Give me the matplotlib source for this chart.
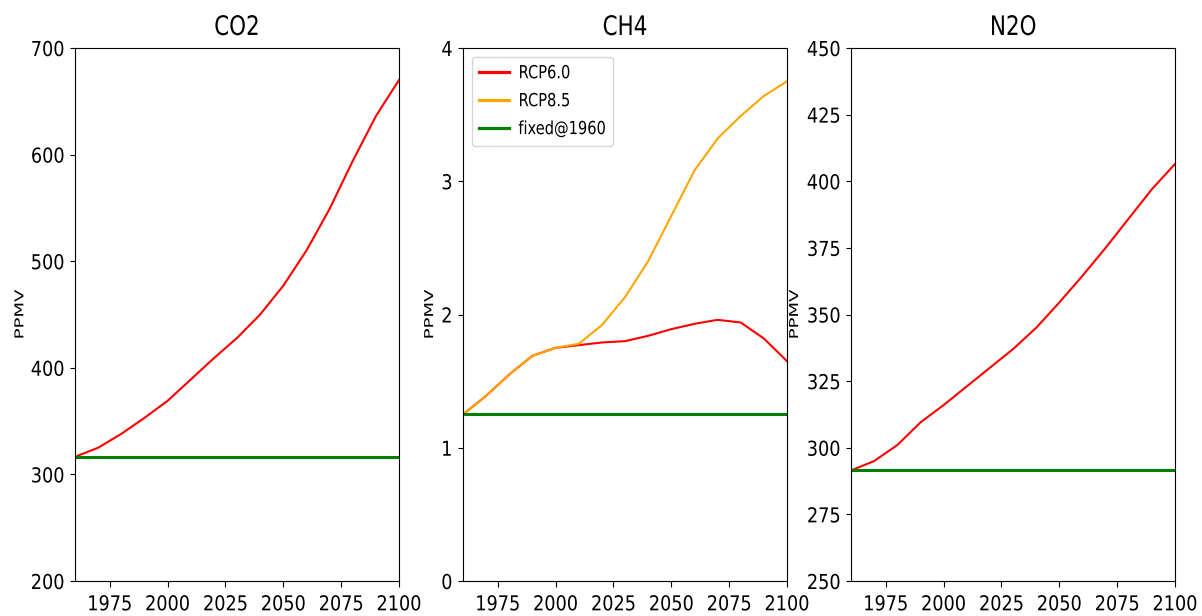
import matplotlib
matplotlib.use("Agg")
import matplotlib.pyplot as plt
from matplotlib.patheffects import AbstractPathEffect
from matplotlib.transforms import Affine2D, Bbox

plt.rcParams['font.family'] = ["DejaVu Sans"]

years = [1960, 1970, 1980, 1990, 2000, 2010, 2020, 2030, 2040, 2050, 2060, 2070, 2080, 2090, 2100]

co2_rcp60 = [316.5, 325, 338, 353, 369, 389, 409, 428, 450, 477, 510, 549, 594, 636, 670]
co2_fixed = 316.5

ch4_rcp60 = [1.25, 1.39, 1.55, 1.69, 1.75, 1.77, 1.79, 1.80, 1.84, 1.89, 1.93, 1.96, 1.94, 1.82, 1.65]
ch4_rcp85 = [1.25, 1.39, 1.55, 1.69, 1.75, 1.78, 1.92, 2.13, 2.40, 2.74, 3.08, 3.32, 3.49, 3.64, 3.75]
ch4_fixed = 1.25

n2o_rcp60 = [291.5, 295, 301, 309.5, 316, 323, 330, 337, 345, 354.5, 364.5, 375, 386, 397, 406.5]
n2o_fixed = 291.5

titles = ["CO2", "CH4", "N2O"]
ylims = [(200, 700), (0, 4), (250, 450)]
yticks = [[200, 300, 400, 500, 600, 700], [0, 1, 2, 3, 4], [250, 275, 300, 325, 350, 375, 400, 425, 450]]
xticks = [1975, 2000, 2025, 2050, 2075, 2100]
ylabel_x = [-0.147, -0.080, -0.151]


class Squeeze(AbstractPathEffect):
    """Draw text condensed horizontally about an anchor of its ink box."""
    def __init__(self, sx=0.85, anchor="center"):
        super().__init__()
        self.sx = sx
        self.anchor = anchor

    def draw_path(self, renderer, gc, tpath, affine, rgbFace=None):
        ext = tpath.get_extents(affine)
        if self.anchor == "left":
            x0 = ext.x0
        elif self.anchor == "right":
            x0 = ext.x1
        else:
            x0 = 0.5 * (ext.x0 + ext.x1)
        aff = affine + Affine2D().translate(-x0, 0).scale(self.sx, 1).translate(x0, 0)
        renderer.draw_path(gc, tpath, aff, rgbFace)


def condense(t, sx, anchor):
    """Condense a text horizontally, both drawn glyphs and reported extent."""
    t.set_path_effects([Squeeze(sx, anchor)])
    try:
        orig = t._get_layout

        def f(renderer, _orig=orig):
            bbox, info, descent = _orig(renderer)
            w = bbox.width * sx
            if anchor == "left":
                x0 = bbox.x0
            elif anchor == "right":
                x0 = bbox.x1 - w
            else:
                x0 = bbox.x0 + 0.5 * (bbox.width - w)
            return Bbox.from_bounds(x0, bbox.y0, w, bbox.height), info, descent
        t._get_layout = f
    except Exception:
        pass


fig = plt.figure(figsize=(12.02, 6.16), dpi=100)
lefts = [75/1202, 463/1202, 851/1202]
axes = [fig.add_axes([l, 35/616, 324/1202, 533/616]) for l in lefts]

# CO2
ax = axes[0]
ax.plot(years, co2_rcp60, color="red", lw=1.5, label="RCP6.0")
ax.axhline(co2_fixed, color="green", lw=2.2, label="fixed@1960")
# CH4
ax = axes[1]
ax.plot(years, ch4_rcp60, color="red", lw=1.5, label="RCP6.0")
ax.plot(years, ch4_rcp85, color="orange", lw=1.5, label="RCP8.5")
ax.axhline(ch4_fixed, color="green", lw=2.2, label="fixed@1960")
leg = ax.legend(loc="upper left", fontsize=13, handlelength=1.66, handletextpad=0.5,
                borderpad=0.42, labelspacing=0.55, borderaxespad=0.48)
for line in leg.get_lines():
    line.set_linewidth(2.3)
for t in leg.get_texts():
    condense(t, 0.81, "left")
# N2O
ax = axes[2]
ax.plot(years, n2o_rcp60, color="red", lw=1.5, label="RCP6.0")
ax.axhline(n2o_fixed, color="green", lw=2.2, label="fixed@1960")

for ax, t, yl, yt, lx in zip(axes, titles, ylims, yticks, ylabel_x):
    ax.set_xlim(1960, 2100)
    ax.set_ylim(*yl)
    ax.set_xticks(xticks)
    ax.set_yticks(yt)
    ax.tick_params(labelsize=14.8)
    ax.tick_params(axis="x", length=4.3, pad=5.3)
    ax.tick_params(axis="y", length=3.6, pad=3.8)
    ttl = ax.set_title(t, fontsize=19.3, pad=9.4)
    condense(ttl, 0.80, "center")
    lab = ax.set_ylabel("PPMV", fontsize=13)
    condense(lab, 0.68, "right")
    ax.yaxis.set_label_coords(lx, 0.5)
    for tl in ax.get_xticklabels():
        condense(tl, 0.86, "center")
    for tl in ax.get_yticklabels():
        condense(tl, 0.86, "right")

fig.savefig("out.png", dpi=100)
